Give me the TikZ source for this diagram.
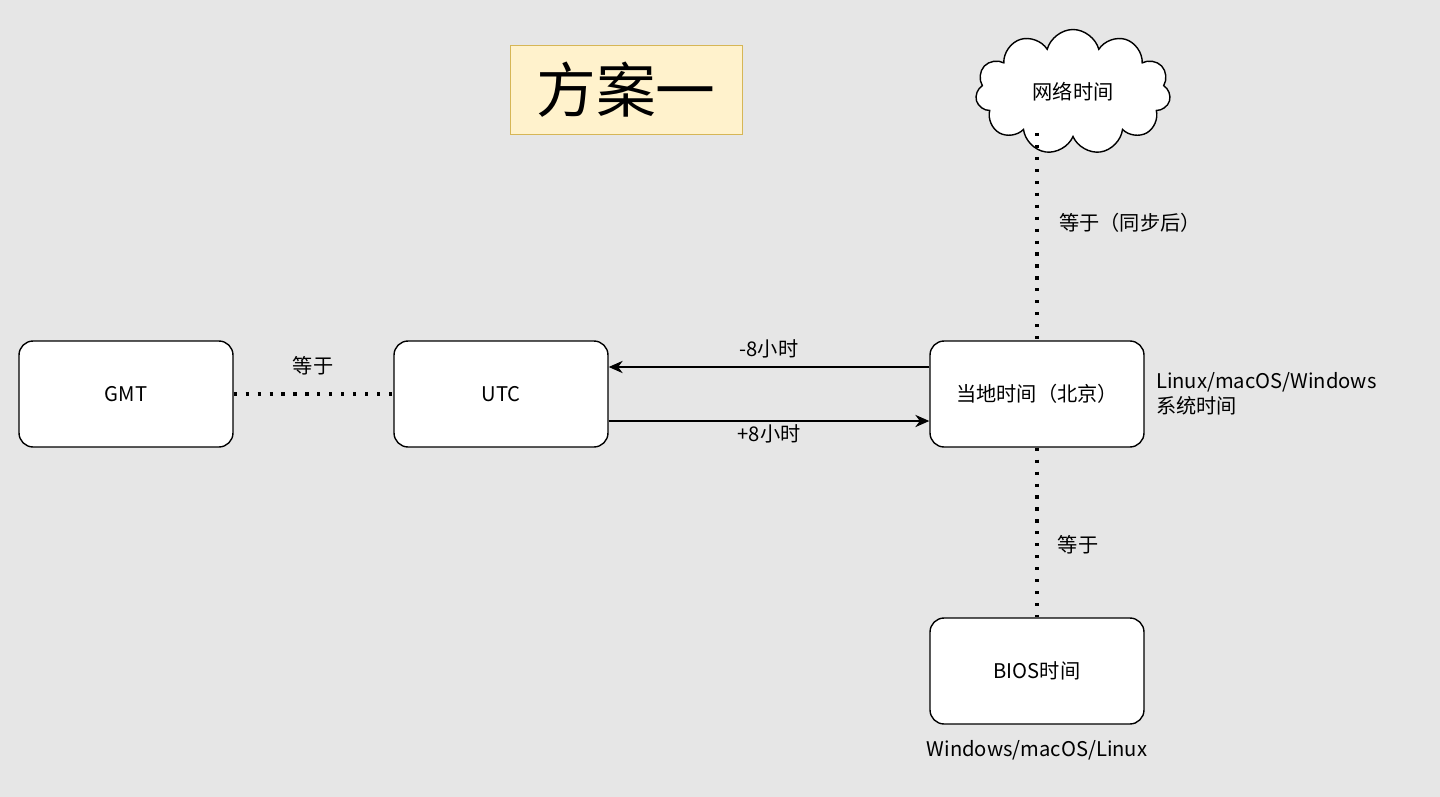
\documentclass[tikz,border=0pt]{standalone}
\usepackage{fontspec}
\setmainfont{Liberation Sans}
\newfontfamily\cjk{Noto Sans CJK SC}
\usetikzlibrary{shapes.symbols,arrows.meta}
\definecolor{bg}{HTML}{E6E6E6}
\definecolor{titlefill}{HTML}{FFF2CC}
\definecolor{titledraw}{HTML}{D6B656}
\begin{document}
\begin{tikzpicture}[x=0.02cm,y=-0.02cm,font=\cjk\fontsize{11.5}{14}\selectfont,
  box/.style={draw,line width=0.8pt,fill=white,rounded corners=8pt,minimum width=4.28cm,minimum height=2.12cm},
  dots/.style={line width=1.8pt,dash pattern=on 1.8pt off 5pt},
  arr/.style={line width=0.8pt,-{Stealth[length=8pt,width=7pt]}},
  lbl/.style={inner sep=1pt}]
\fill[bg] (0,0) rectangle (1440,797);
\node[draw=titledraw,fill=titlefill,minimum width=4.64cm,minimum height=1.78cm,font=\cjk\fontsize{34}{40}\selectfont] (title) at (626,90) {方案一};
\node[cloud,draw,line width=0.8pt,fill=white,cloud puffs=11,aspect=1.6,minimum width=3.9cm,minimum height=2.5cm] (net) at (1073,92) {网络时间};
\node[box] (gmt) at (126,394) {GMT};
\node[box] (utc) at (501,394) {UTC};
\node[box] (loc) at (1037,394) {当地时间（北京）};
\node[box] (bios) at (1037,671) {BIOS时间};
\draw[dots] (gmt) -- (utc);
\node[lbl] (l1) at (313,366) {等于};
\draw[arr] (loc.west|-0,367) -- (utc.east|-0,367);
\draw[arr] (utc.east|-0,421) -- (loc.west|-0,421);
\node[lbl] (l2) at (769,349) {-8小时};
\node[lbl] (l3) at (769,434) {+8小时};
\coordinate (ctop) at (1037,133);
\draw[dots] (ctop) -- (loc.north-|ctop);
\node[lbl] (l4) at (1130,223) {等于（同步后）};
\draw[dots] (loc.south-|ctop) -- (bios.north-|ctop);
\node[lbl] (l5) at (1078,545) {等于};
\node[lbl,align=left,anchor=west] (l6) at (1154,394) {Linux/macOS/Windows\\系统时间};
\node[lbl] (l7) at (1037,750) {Windows/macOS/Linux};
\end{tikzpicture}
\end{document}
